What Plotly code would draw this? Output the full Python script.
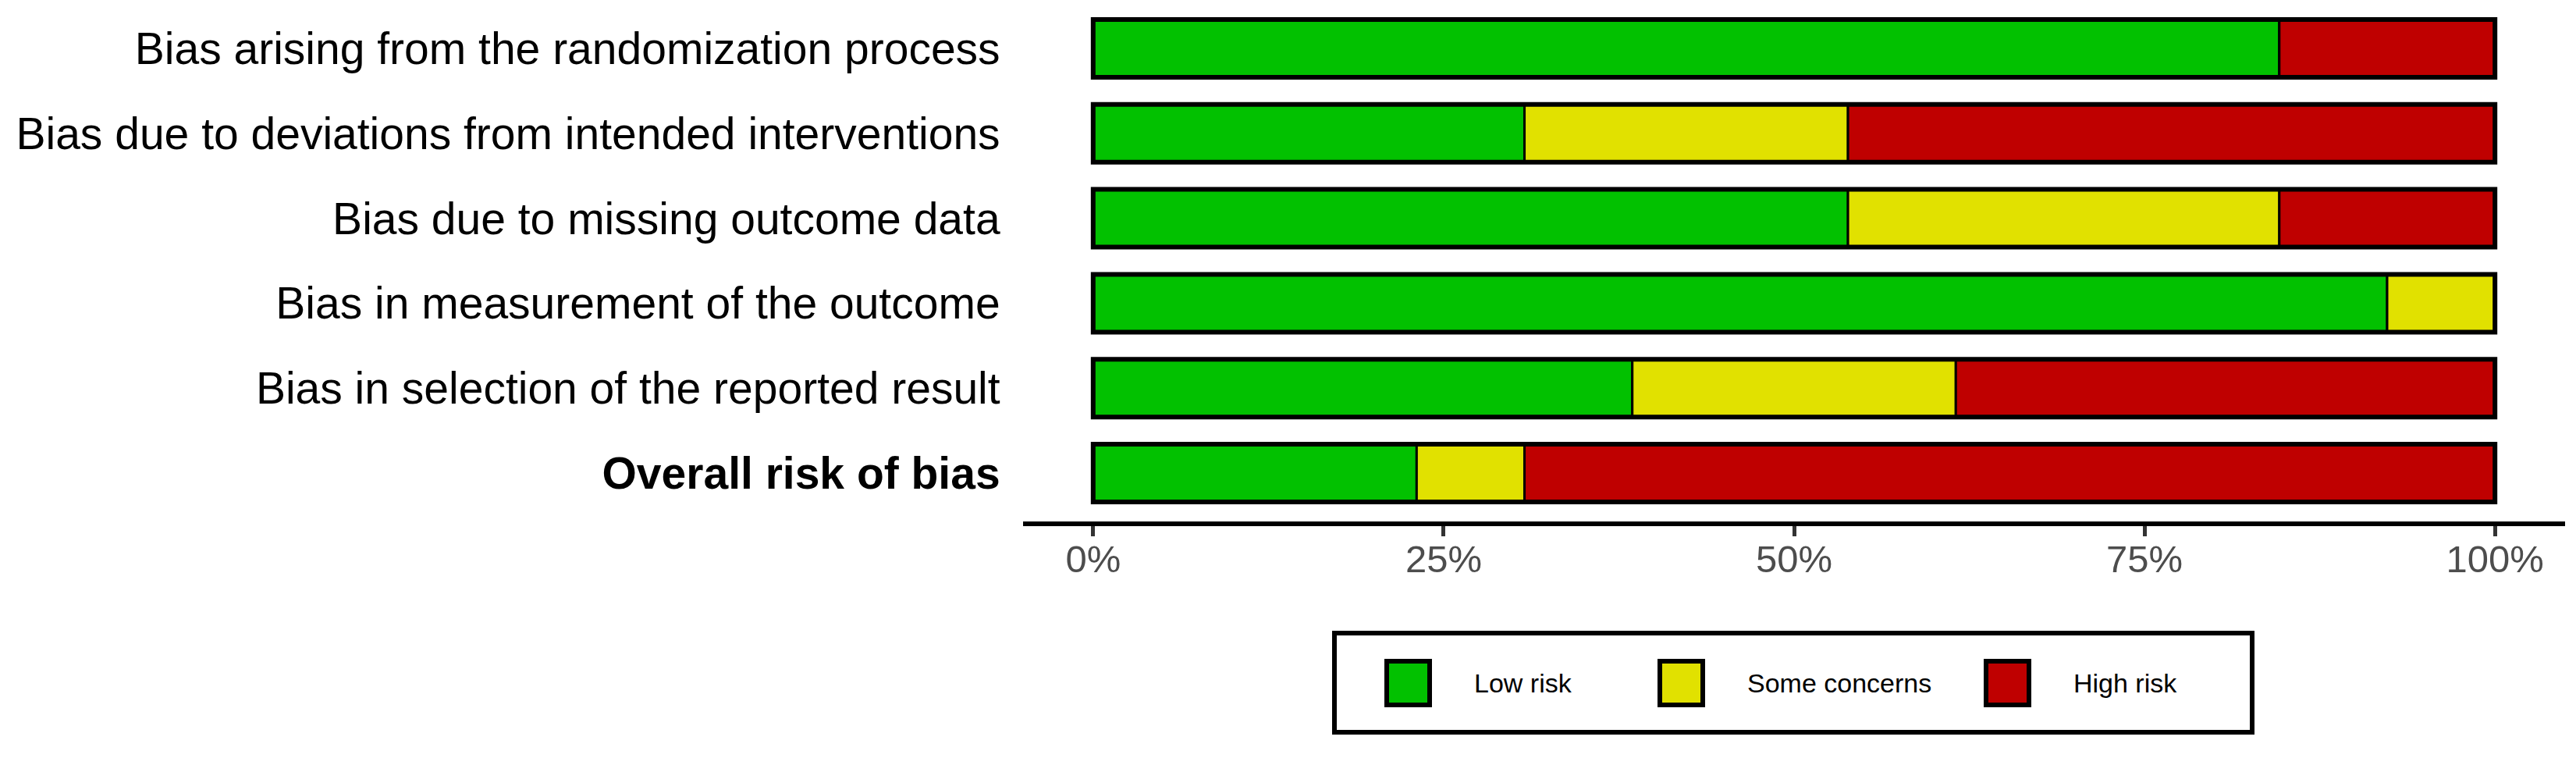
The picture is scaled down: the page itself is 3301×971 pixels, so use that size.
import plotly.graph_objects as go

# ---------------- data ----------------
domains = [
    "Bias arising from the randomization process",
    "Bias due to deviations from intended interventions",
    "Bias due to missing outcome data",
    "Bias in measurement of the outcome",
    "Bias in selection of the reported result",
    "<b>Overall risk of bias</b>",
]
n_studies = 13
low_counts = [11, 4, 7, 12, 5, 3]
some_counts = [0, 3, 4, 1, 3, 1]
high_counts = [2, 6, 2, 0, 5, 9]

judgements = ["Low risk", "Some concerns", "High risk"]
colours = ["#02C100", "#E1E100", "#BF0000"]
tick_vals = [0, 0.25, 0.5, 0.75, 1.0]
tick_text = ["0%", "25%", "50%", "75%", "100%"]

# ---------------- layout constants (page pixels) ----------------
OFF = 8                      # default body margin of the html page
W, H = 3301 - 2 * OFF, 971 - 2 * OFF
PLOT_L, PLOT_R, PLOT_T, PLOT_B = 1311, 3287, OFF, 668   # page coords
FONT = "Liberation Sans, Arial, Helvetica, sans-serif"


def px_x(p):
    return (p - PLOT_L) / (PLOT_R - PLOT_L)


def px_y(p):
    return (PLOT_B - p) / (PLOT_B - PLOT_T)


series = [low_counts, some_counts, high_counts]
fractions = [[c / n_studies for c in s] for s in series]

BAR_W = 0.68
fig = go.Figure()
bases = [0.0] * len(domains)
for name, col, vals in zip(judgements, colours, fractions):
    fig.add_trace(go.Bar(
        y=domains, x=vals, base=list(bases), orientation="h", name=name,
        marker=dict(color=col, line=dict(color="black", width=3)),
        width=BAR_W, showlegend=False, hoverinfo="skip",
    ))
    bases = [b + v for b, v in zip(bases, vals)]

# outer outline of each full bar
fig.add_trace(go.Bar(
    y=domains, x=bases, base=[0] * len(domains), orientation="h",
    marker=dict(color="rgba(0,0,0,0)", line=dict(color="black", width=6)),
    width=BAR_W, showlegend=False, hoverinfo="skip",
))

# ---------------- manual legend ----------------
shapes = []
annotations = []
box = dict(x0=1710, x1=2886, y0=811, y1=938)
shapes.append(dict(type="rect", xref="paper", yref="paper",
                   x0=px_x(box["x0"]), x1=px_x(box["x1"]),
                   y0=px_y(box["y1"]), y1=px_y(box["y0"]),
                   line=dict(color="black", width=6), fillcolor="white", layer="below"))
key_x = [1777, 2127, 2545]
text_x = [1887, 2237, 2655]
key_w, key_top, key_bot = 55, 847, 903
for name, col, kx, tx in zip(judgements, colours, key_x, text_x):
    shapes.append(dict(type="rect", xref="paper", yref="paper",
                       x0=px_x(kx), x1=px_x(kx + key_w),
                       y0=px_y(key_bot), y1=px_y(key_top),
                       line=dict(color="black", width=6), fillcolor=col))
    annotations.append(dict(xref="paper", yref="paper", x=px_x(tx), y=px_y(875),
                            text=name, showarrow=False, xanchor="left", yanchor="middle",
                            font=dict(family=FONT, size=34, color="black")))

fig.update_layout(
    width=W, height=H, autosize=False,
    margin=dict(l=PLOT_L - OFF, r=W - (PLOT_R - OFF), t=PLOT_T - OFF,
                b=H - (PLOT_B - OFF), pad=0),
    barmode="overlay",
    plot_bgcolor="white", paper_bgcolor="white",
    font=dict(family=FONT, color="black"),
    shapes=shapes, annotations=annotations,
    showlegend=False,
)
fig.update_xaxes(
    range=[-0.05, 1.05], tickvals=tick_vals, ticktext=tick_text,
    showgrid=False, zeroline=False, showline=True, linecolor="black", linewidth=6,
    ticks="outside", ticklen=13, tickwidth=5, tickcolor="#333333",
    ticklabelstandoff=-13,
    tickfont=dict(family=FONT, size=49, color="#4D4D4D"), automargin=False,
)
fig.update_yaxes(
    range=[(PLOT_B - 62) / 108.8, (PLOT_T - 62) / 108.8],
    showgrid=False, zeroline=False, showline=False,
    ticks="outside", ticklen=17, tickcolor="rgba(0,0,0,0)",
    tickfont=dict(family=FONT, size=57, color="black"), automargin=False,
)

fig.write_html("out.html")
